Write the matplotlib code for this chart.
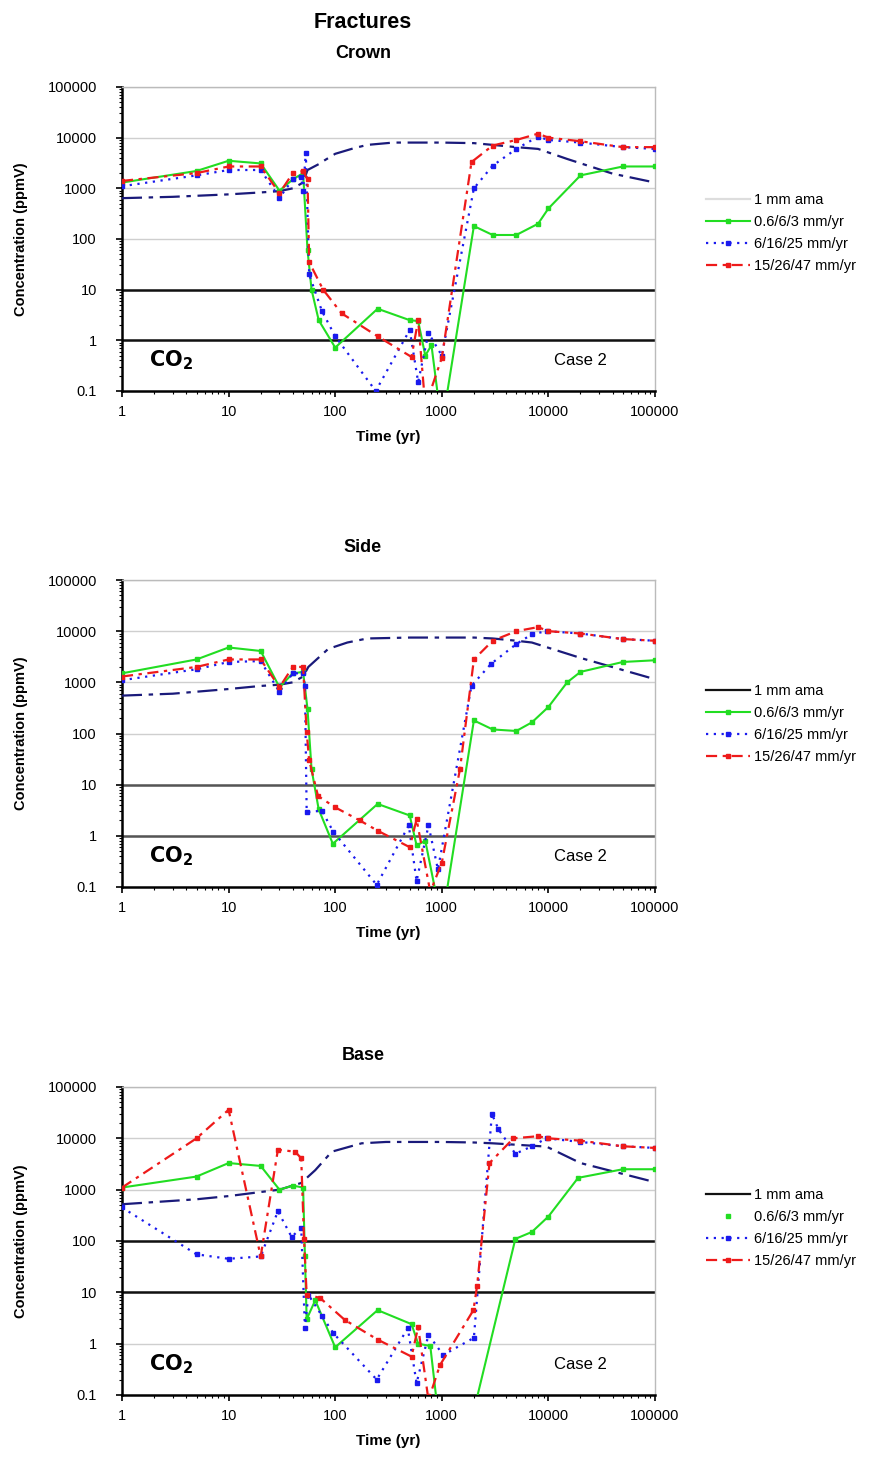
import matplotlib
matplotlib.use("Agg")
import matplotlib.pyplot as plt
from matplotlib.lines import Line2D
from matplotlib.ticker import LogLocator, FixedLocator, NullFormatter

plt.rcParams['font.family'] = ['Liberation Sans', 'DejaVu Sans']

# ---------------- data ----------------
series_labels = ["1 mm ama", "0.6/6/3 mm/yr", "6/16/25 mm/yr", "15/26/47 mm/yr"]
panel_titles = ["Crown", "Side", "Base"]
x_ticks = [1, 10, 100, 1000, 10000, 100000]
x_tick_labels = ["1", "10", "100", "1000", "10000", "100000"]
y_ticks = [0.1, 1, 10, 100, 1000, 10000, 100000]
y_tick_labels = ["0.1", "1", "10", "100", "1000", "10000", "100000"]

# Crown
crown_t_navy = [1, 3, 10, 20, 30, 40, 50, 55, 70, 80, 100, 150, 200, 350, 500, 1000, 2000, 3000, 5000, 8000, 15000, 40000, 100000]
crown_navy = [640, 680, 760, 830, 880, 1000, 1300, 2300, 3000, 3600, 4800, 6200, 7200, 8000, 8000, 8000, 7800, 7200, 6500, 6000, 3800, 1950, 1300]
crown_t_green = [1, 5, 10, 20, 30, 40, 50, 55, 60, 70, 100, 250, 500, 600, 700, 800, 1000, 2000, 3000, 5000, 8000, 10000, 20000, 50000, 100000]
crown_green = [1300, 2200, 3500, 3100, 900, 1500, 2000, 60, 10, 2.5, 0.72, 4.2, 2.5, 2.4, 0.5, 0.8, 0.02, 180, 120, 120, 200, 400, 1800, 2700, 2700]
crown_t_blue = [1, 5, 10, 20, 30, 40, 48, 50, 53, 57, 75, 100, 240, 500, 600, 750, 1000, 2000, 3000, 5000, 8000, 10000, 20000, 50000, 100000]
crown_blue = [1100, 1800, 2300, 2300, 650, 1500, 1700, 900, 5000, 20, 3.8, 1.2, 0.1, 1.6, 0.15, 1.4, 0.5, 1000, 2800, 6000, 10500, 9000, 8000, 6500, 6000]
crown_t_red = [1, 5, 10, 20, 30, 40, 50, 55, 57, 77, 115, 250, 520, 600, 700, 1000, 1900, 3000, 5000, 8000, 10000, 20000, 50000, 100000]
crown_red = [1400, 2000, 2700, 2700, 800, 2000, 2200, 1500, 35, 10, 3.4, 1.2, 0.47, 2.5, 0.05, 0.45, 3300, 7000, 9000, 12000, 10000, 8500, 6500, 6500]

# Side
side_t_navy = [1, 3, 10, 20, 30, 40, 50, 56, 86, 130, 200, 500, 1000, 2000, 3000, 5000, 7000, 20000, 100000]
side_navy = [550, 600, 740, 850, 900, 1000, 1300, 2000, 4500, 6000, 7200, 7500, 7500, 7500, 7200, 6500, 6000, 3000, 1150]
side_t_green = [1, 5, 10, 20, 30, 40, 50, 55, 60, 70, 95, 250, 500, 580, 700, 1000, 2000, 3000, 5000, 7000, 10000, 15000, 20000, 50000, 100000]
side_green = [1500, 2800, 4800, 4100, 800, 1500, 1600, 300, 20, 3.3, 0.7, 4.2, 2.5, 0.65, 0.8, 0.02, 180, 120, 112, 165, 330, 1000, 1600, 2500, 2700]
side_t_blue = [1, 5, 10, 20, 30, 40, 50, 52, 54, 75, 96, 245, 490, 580, 750, 920, 1900, 2900, 5000, 7000, 9600, 20000, 50000, 100000]
side_blue = [1100, 1800, 2500, 2600, 650, 1500, 1500, 850, 2.9, 3.1, 1.2, 0.11, 1.6, 0.13, 1.6, 0.22, 860, 2300, 5600, 8700, 10000, 9000, 7000, 6500]
side_t_red = [1, 5, 10, 20, 30, 40, 50, 54, 57, 69, 100, 170, 250, 500, 580, 780, 1000, 1480, 2000, 3000, 5000, 8000, 10000, 20000, 50000, 100000]
side_red = [1300, 2000, 2800, 2800, 800, 2000, 2000, 105, 30, 6, 3.6, 2, 1.26, 0.6, 2.1, 0.08, 0.3, 20, 2800, 6500, 10000, 12000, 10000, 9000, 7000, 6500]

# Base
base_t_navy = [1, 5, 10, 20, 30, 48, 65, 93, 177, 300, 1000, 2000, 3000, 5000, 9600, 20000, 100000]
base_navy = [520, 650, 750, 900, 1000, 1350, 2400, 5500, 8000, 8500, 8500, 8300, 8000, 7500, 6900, 3300, 1400]
base_t_green = [1, 5, 10, 20, 30, 40, 50, 52, 54, 65, 100, 250, 520, 600, 780, 1000, 2000, 4900, 7000, 10000, 19000, 50000, 100000]
base_green = [1100, 1800, 3300, 2900, 1000, 1200, 1100, 50, 3, 7, 0.85, 4.5, 2.4, 1.0, 0.9, 0.01, 0.05, 110, 150, 300, 1700, 2500, 2500]
base_t_blue = [1, 5, 10, 20, 29, 39, 48, 52, 56, 75, 96, 245, 480, 580, 750, 1030, 2000, 2950, 3400, 4900, 7000, 9600, 20000, 50000, 100000]
base_blue = [450, 55, 45, 50, 380, 120, 180, 2, 9, 3.5, 1.6, 0.2, 2, 0.17, 1.5, 0.6, 1.3, 30000, 15000, 5000, 7000, 10000, 8500, 7000, 6500]
base_t_red = [1, 5, 10, 20, 29, 42, 48, 51, 54, 72, 123, 250, 520, 600, 750, 960, 1980, 2140, 2800, 4700, 8000, 10000, 20000, 50000, 100000]
base_red = [1100, 10000, 36000, 50, 6000, 5500, 4100, 110, 9, 7.8, 2.9, 1.2, 0.56, 2.1, 0.08, 0.38, 4.5, 13, 3300, 10000, 11000, 10000, 9000, 7000, 6500]

panels = [
    (crown_t_navy, crown_navy, crown_t_green, crown_green, crown_t_blue, crown_blue, crown_t_red, crown_red),
    (side_t_navy, side_navy, side_t_green, side_green, side_t_blue, side_blue, side_t_red, side_red),
    (base_t_navy, base_navy, base_t_green, base_green, base_t_blue, base_blue, base_t_red, base_red),
]

# ---------------- layout ----------------
W, H = 895, 1465
fig = plt.figure(figsize=(W / 100, H / 100), dpi=100)

ax_px = [(87, 391), (580, 887), (1087, 1395)]   # top, bottom in px
title_px = [53, 548, 1055]
legend_px = [199, 690, 1194]
dark_lines = [([1, 10], '#111111'), ([1, 10], '#555555'), ([10, 100], '#111111')]

NAVY = '#1a1a7a'
GREEN = '#22dd22'
BLUE = '#1a1aee'
RED = '#ee1a1a'

fig.text(363 / W, 1 - 22 / H, "Fractures", ha='center', va='center', fontsize=15.5, fontweight='bold')

for i, (data, (top, bot)) in enumerate(zip(panels, ax_px)):
    tn, yn, tg, yg, tb, yb, tr, yr = data
    ax = fig.add_axes([122 / W, 1 - bot / H, 533 / W, (bot - top) / H])
    ax.set_xscale('log')
    ax.set_yscale('log')
    ax.set_xlim(1, 100000)
    ax.set_ylim(0.1, 100000)

    for yv in y_ticks[1:]:
        ax.axhline(yv, color='#cfcfcf', lw=1.0, zorder=1)
    dl, dc = dark_lines[i]
    for yv in dl:
        ax.axhline(yv, color=dc, lw=1.8, zorder=1.5)

    ax.plot(tn, yn, color=NAVY, lw=1.6, dashes=[9, 3, 2, 3], zorder=3)
    ax.plot(tg, yg, color=GREEN, lw=1.5, marker='s', ms=3.5, zorder=4)
    ax.plot(tb, yb, color=BLUE, lw=1.6, ls=(0, (1, 2.5)), marker='s', ms=3.5, zorder=5)
    ax.plot(tr, yr, color=RED, lw=1.6, dashes=[5, 2.5, 1.5, 2.5], marker='s', ms=3.5, zorder=6)

    ax.xaxis.set_major_locator(FixedLocator(x_ticks))
    ax.set_xticklabels(x_tick_labels)
    ax.xaxis.set_minor_locator(LogLocator(base=10, subs=range(2, 10)))
    ax.xaxis.set_minor_formatter(NullFormatter())
    ax.yaxis.set_major_locator(FixedLocator(y_ticks))
    ax.set_yticklabels(y_tick_labels)
    ax.yaxis.set_minor_locator(LogLocator(base=10, subs=range(2, 10)))
    ax.yaxis.set_minor_formatter(NullFormatter())
    ax.tick_params(axis='y', which='major', length=4, width=1.2, labelsize=10.5, pad=14)
    ax.tick_params(axis='x', which='major', length=4, width=1.2, labelsize=10.5, pad=6)
    ax.tick_params(which='minor', length=2, width=0.8)

    for s in ['top', 'right']:
        ax.spines[s].set_color('#bbbbbb')
        ax.spines[s].set_linewidth(1.0)
    ax.spines['left'].set_linewidth(1.8)
    ax.spines['bottom'].set_linewidth(1.8)

    ax.set_ylabel("Concentration (ppmV)", fontsize=10.5, fontweight='bold', labelpad=14)
    ax.set_xlabel("Time (yr)", fontsize=11, fontweight='bold', labelpad=8)

    ax.text(0.05, 0.1, r"$\mathbf{CO_2}$", transform=ax.transAxes, fontsize=15, va='center', ha='left')
    ax.text(0.86, 0.1, "Case 2", transform=ax.transAxes, fontsize=12, va='center', ha='center')

    fig.text(363 / W, 1 - title_px[i] / H, panel_titles[i], ha='center', va='center', fontsize=13, fontweight='bold')

    first = Line2D([], [], color='#dddddd' if i == 0 else '#111111', lw=1.6)
    g_handle = Line2D([], [], color=GREEN, lw=1.5, marker='s', ms=3.5,
                      ls='none' if i == 2 else '-')
    b_handle = Line2D([], [], color=BLUE, lw=1.6, ls=(0, (1, 2.5)), marker='s', ms=3.5)
    r_handle = Line2D([], [], color=RED, lw=1.6, dashes=[5, 2.5, 1.5, 2.5], marker='s', ms=3.5)
    ly = legend_px[i]
    fig.legend([first, g_handle, b_handle, r_handle], series_labels,
               loc='upper left', bbox_to_anchor=(700 / W, 1 - (ly - 12) / H),
               frameon=False, fontsize=10.5, handlelength=3.0, handletextpad=0.3,
               labelspacing=0.55, borderaxespad=0)

fig.savefig("out.png", dpi=100)
